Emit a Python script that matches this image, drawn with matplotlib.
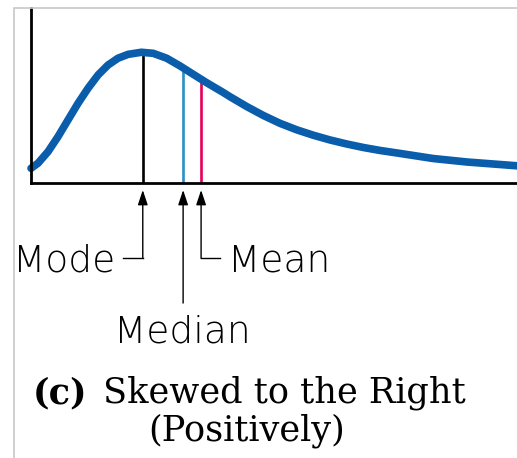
import numpy as np
import matplotlib.pyplot as plt
from matplotlib.patches import Rectangle

# curve (arbitrary units, x 0..10, y 0..1)
curve_x = [0.000, 0.144, 0.350, 0.556, 0.761, 0.967, 1.173, 1.379, 1.584,
           1.790, 1.996, 2.270, 2.516, 2.792, 3.066, 3.339, 3.615, 3.957,
           4.095, 4.438, 4.780, 5.123, 5.467, 5.809, 6.152, 6.496, 6.837,
           7.181, 7.593, 8.272, 8.971, 9.918, 10.062]
curve_y = [0.084, 0.113, 0.179, 0.265, 0.360, 0.455, 0.541, 0.617, 0.674,
           0.713, 0.735, 0.747, 0.741, 0.713, 0.669, 0.621, 0.573, 0.517,
           0.493, 0.437, 0.386, 0.341, 0.304, 0.273, 0.246, 0.223, 0.203,
           0.186, 0.169, 0.140, 0.120, 0.100, 0.097]

labels = ["Mode", "Median", "Mean"]
positions = [2.30, 3.13, 3.50]
heights = [0.74, 0.66, 0.595]
colors = ["black", "#2A8FC4", "#E6005C"]

W, H = 517, 458
fig = plt.figure(figsize=(W / 100, H / 100), dpi=100)

# faint frame of the scanned figure
fig.patches.append(Rectangle((14 / W, -0.1), 1.2, (H - 8) / H + 0.1,
                             transform=fig.transFigure, fill=False,
                             edgecolor="#C8C8C8", linewidth=1.2))

ax = fig.add_axes([31 / W, (H - 183) / H, (W - 31) / W, (183 - 8) / H])
ax.set_xlim(0, 10)
ax.set_ylim(0, 1)
for s in ["top", "right"]:
    ax.spines[s].set_visible(False)
for s in ["left", "bottom"]:
    ax.spines[s].set_linewidth(2.0)
ax.set_xticks([])
ax.set_yticks([])
ax.patch.set_alpha(0)

# mode / median / mean lines
for p, h, c in zip(positions, heights, colors):
    ax.plot([p, p], [0, h], color=c, linewidth=1.9, solid_capstyle="butt")

ax.plot(curve_x, curve_y, color="#0A5DAA", linewidth=5.5,
        solid_capstyle="round", solid_joinstyle="round", clip_on=False)

# arrows below the axis
arrow_kw = dict(arrowstyle="-|>,head_length=0.9,head_width=0.3",
                color="black", linewidth=1.0, shrinkA=0, shrinkB=0)
tip = -0.04
ax.annotate("", xy=(positions[0], tip), xytext=(positions[0], -0.43),
            arrowprops=arrow_kw, annotation_clip=False)
ax.plot([positions[0], 1.89], [-0.43, -0.43], color="black", lw=1.0, clip_on=False)
ax.annotate("", xy=(positions[1], tip), xytext=(positions[1], -0.686),
            arrowprops=arrow_kw, annotation_clip=False)
ax.annotate("", xy=(positions[2], tip), xytext=(positions[2], -0.43),
            arrowprops=arrow_kw, annotation_clip=False)
ax.plot([positions[2], 3.89], [-0.43, -0.43], color="black", lw=1.0, clip_on=False)

lab_kw = dict(fontsize=27, family="DejaVu Sans", fontweight="light",
              color="black", va="baseline")
ax.text(1.73, -0.503, labels[0], ha="right", **lab_kw)
ax.text(3.12, -0.909, labels[1], ha="center", **lab_kw)
ax.text(4.05, -0.503, labels[2], ha="left", **lab_kw)

serif = ["DejaVu Serif"]
fig.text(33 / W, 1 - 403 / H, "(c)", fontsize=25.3, fontweight="bold",
         family=serif, ha="left", va="baseline")
fig.text(103 / W, 1 - 403 / H, "Skewed to the Right", fontsize=25.3,
         family=serif, ha="left", va="baseline")
fig.text(246.5 / W, 1 - 441 / H, "(Positively)", fontsize=25.3,
         family=serif, ha="center", va="baseline")

fig.savefig("out.png", dpi=100)
